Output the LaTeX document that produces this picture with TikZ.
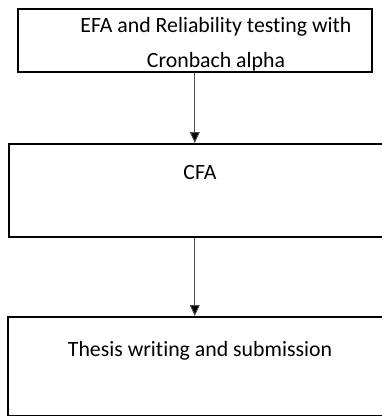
\documentclass[tikz,border=0pt]{standalone}
\usepackage{fontspec}
\setmainfont[Ligatures=CommonOff]{Carlito}
\usetikzlibrary{arrows.meta}
\begin{document}
\begin{tikzpicture}[x=1pt,y=-1pt,
  stagebox/.style={draw=black,line width=1.6pt,rectangle,inner sep=0pt,anchor=north west},
  stagetext/.style={inner sep=0pt,align=center,font=\fontsize{21.8pt}{35pt}\selectfont},
  conn/.style={draw=black!70,line width=1pt,-{Triangle[width=10pt,length=11pt,fill=black]}}]
  \useasboundingbox (0,0) rectangle (382,416);
  \clip (0,0) rectangle (382,416);
  % stage boxes
  \node[stagebox,minimum width=354pt,minimum height=63pt] (efa) at (17,8) {};
  \node[stagebox,minimum width=384pt,minimum height=93pt] (cfa) at (8,143) {};
  \node[stagebox,minimum width=385pt,minimum height=99pt] (thesis) at (7,316) {};
  % stage labels (base anchor sits on the last line)
  \node[stagetext,anchor=base] (efat) at (216,67) {EFA and Reliability testing with\\Cronbach alpha};
  \node[stagetext,anchor=base] (cfat) at (200,179) {CFA};
  \node[stagetext,anchor=base] (thesist) at (200,356) {Thesis writing and submission};
  % connectors
  \draw[conn] (efa.south) -- (efa.south |- cfa.north);
  \draw[conn] (efa.south |- cfa.south) -- (efa.south |- thesis.north);
\end{tikzpicture}
\end{document}
